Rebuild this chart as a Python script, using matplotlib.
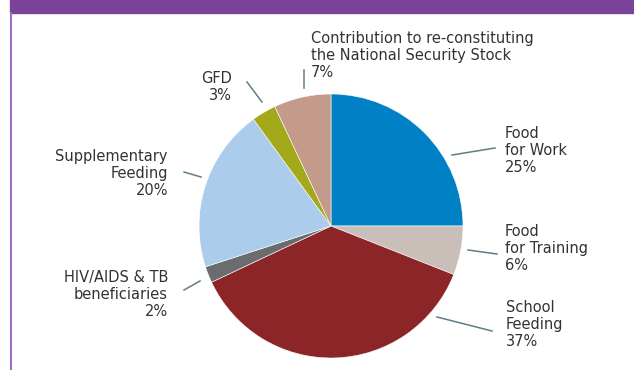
import matplotlib
matplotlib.use("Agg")
import matplotlib.pyplot as plt
from matplotlib.patches import Rectangle

# data
labels = ["Food\nfor Work", "Food\nfor Training", "School\nFeeding",
          "HIV/AIDS & TB\nbeneficiaries", "Supplementary\nFeeding", "GFD",
          "Contribution to re-constituting\nthe National Security Stock"]
shares = [25, 6, 37, 2, 20, 3, 7]
colors = ["#0081c6", "#c9bfb8", "#8b2528", "#6b6c6e", "#abcdeb", "#a3a91a", "#c49a8a"]

# label layout in pixels (image coords): text anchor x, top y, alignment
label_pos = [(505, 126, "left"), (505, 224, "left"), (506, 300, "left"),
             (168, 270, "right"), (168, 149, "right"), (232, 71, "right"),
             (311, 31, "left")]
leaders = [((452, 155), (495, 148)), ((468, 250), (497, 254)),
           ((437, 317), (492, 331)), ((184, 290), (200, 281)),
           ((184, 172), (201, 177)), ((247, 82), (262, 102)),
           ((304, 70), (304, 88))]

W, H = 634, 370
fig = plt.figure(figsize=(W / 100, H / 100), dpi=100)
ax = fig.add_axes([0, 0, 1, 1])

# frame: purple header band and left border
ax.add_patch(Rectangle((10, H - 13), W - 10, 13, color="#7b4397", zorder=1))
ax.plot([10.5, 10.5], [0, H - 13], color="#9b6fc9", lw=1.5, zorder=1)

ax.pie(shares, colors=colors, startangle=90, counterclock=False,
       center=(331, H - 226), radius=132, frame=True,
       wedgeprops=dict(edgecolor="white", linewidth=0.4))
ax.set_xlim(0, W)
ax.set_ylim(0, H)
ax.set_aspect("equal")
ax.axis("off")

for lab, s, (x, y, ha) in zip(labels, shares, label_pos):
    ax.text(x, H - y, f"{lab}\n{s}%", ha=ha, va="top", fontsize=10.5,
            color="#333333", linespacing=1.17, multialignment=ha)

for (x0, y0), (x1, y1) in leaders:
    ax.plot([x0, x1], [H - y0, H - y1], color="#5e7d85", lw=1.1)

fig.savefig("out.png", dpi=100)
